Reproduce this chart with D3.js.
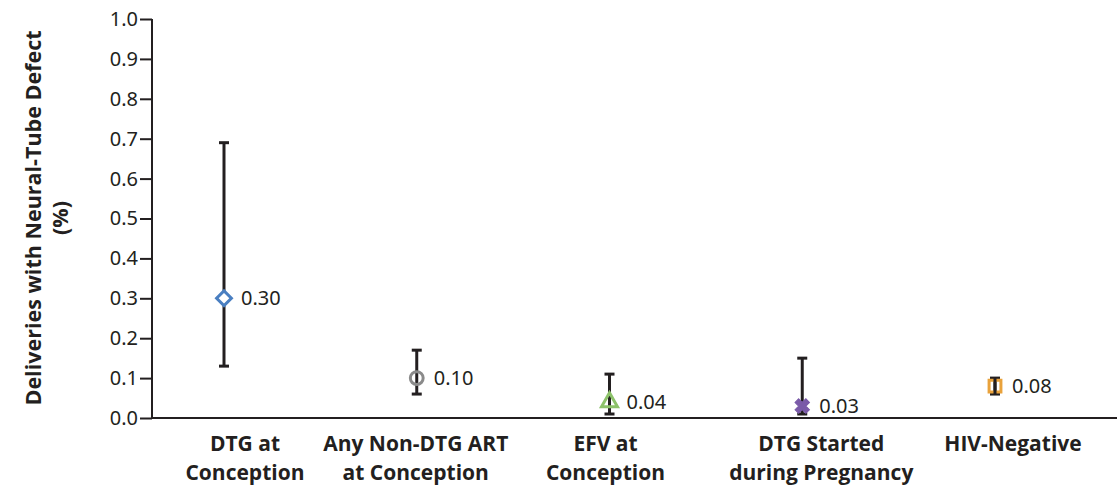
<!DOCTYPE html>
<html lang="en">
<head>
    <meta charset="UTF-8">
    <title>Neural-Tube Defects</title>
    <style>
        body { margin: 0; background: #fff; }
        svg { display: block; }
        .tick text { font: 20px "Noto Sans", sans-serif; fill: #231f20; }
        .cat { font: bold 21px "Open Sans", sans-serif; fill: #231f20; }
        .ytitle { font: bold 21.5px "Open Sans", sans-serif; fill: #231f20; }
        .val { font: 20px "Noto Sans", sans-serif; fill: #231f20; }
    </style>
</head>
<body>
<svg id="chart" width="1117" height="487"></svg>
<script src="https://d3js.org/d3.v7.min.js"></script>
<script>
    const categories = [
        ["DTG at", "Conception"],
        ["Any Non-DTG ART", "at Conception"],
        ["EFV at", "Conception"],
        ["DTG Started", "during Pregnancy"],
        ["HIV-Negative"]
    ];
    const values = [0.30, 0.10, 0.04, 0.03, 0.08];
    const lower = [0.13, 0.06, 0.01, 0.01, 0.06];
    const upper = [0.69, 0.17, 0.11, 0.15, 0.10];
    const valueLabels = ["0.30", "0.10", "0.04", "0.03", "0.08"];
    const yTicks = [0, 0.1, 0.2, 0.3, 0.4, 0.5, 0.6, 0.7, 0.8, 0.9, 1.0];

    // labels in the original are not centred exactly under the markers
    const labelShift = [21, -1, -4, 19, 18];

    const markers = [
        { shape: d3.symbolSquare, color: "#4a7fc1", fill: "#fff", size: 110, rotate: 45 },
        { shape: d3.symbolCircle, color: "#8a8a8a", fill: "none", size: 130 },
        { shape: d3.symbolTriangle, color: "#8dc26a", fill: "none", size: 110 },
        { shape: d3.symbolCross, color: "#7a5aa8", fill: "#7a5aa8", size: 130, rotate: 45 },
        { shape: d3.symbolSquare, color: "#e9a23b", fill: "none", size: 140 }
    ];

    const svg = d3.select("#chart");
    const y = d3.scaleLinear().domain([0, 1]).range([418, 19]);
    const x = d3.scalePoint().domain(d3.range(categories.length)).range([224, 995]);

    // y axis
    const yAxis = d3.axisLeft(y).tickValues(yTicks).tickFormat(d3.format(".1f")).tickSize(12).tickPadding(2);
    const gy = svg.append("g").attr("transform", "translate(152,0)").call(yAxis);
    gy.selectAll("line, path").attr("stroke", "#231f20").attr("stroke-width", 2);
    gy.select(".domain").attr("d", "M0,19V418");

    // x baseline
    svg.append("line")
        .attr("x1", 151).attr("x2", 1117)
        .attr("y1", y(0)).attr("y2", y(0))
        .attr("stroke", "#231f20").attr("stroke-width", 2);

    // y title
    const yt = svg.append("text").attr("class", "ytitle")
        .attr("transform", "translate(41,218) rotate(-90)")
        .attr("text-anchor", "middle");
    yt.append("tspan").attr("x", 0).attr("dy", 0).text("Deliveries with Neural-Tube Defect");
    yt.append("tspan").attr("x", 0).attr("dy", 27).text("(%)");

    // category labels
    categories.forEach((lines, i) => {
        const t = svg.append("text").attr("class", "cat").attr("text-anchor", "middle");
        lines.forEach((l, j) => {
            t.append("tspan").attr("x", x(i) + labelShift[i]).attr("y", 451 + j * 29).text(l);
        });
    });

    // error bars
    const bars = svg.append("g").selectAll("g").data(values).enter().append("g")
        .attr("stroke", "#231f20").attr("stroke-width", 3);
    bars.append("line")
        .attr("x1", (d, i) => x(i)).attr("x2", (d, i) => x(i))
        .attr("y1", (d, i) => y(lower[i])).attr("y2", (d, i) => y(upper[i]));
    bars.append("line")
        .attr("x1", (d, i) => x(i) - 5).attr("x2", (d, i) => x(i) + 5)
        .attr("y1", (d, i) => y(upper[i])).attr("y2", (d, i) => y(upper[i]));
    bars.append("line")
        .attr("x1", (d, i) => x(i) - 5).attr("x2", (d, i) => x(i) + 5)
        .attr("y1", (d, i) => y(lower[i])).attr("y2", (d, i) => y(lower[i]));

    // markers
    svg.append("g").selectAll("path").data(values).enter().append("path")
        .attr("d", (d, i) => d3.symbol().type(markers[i].shape).size(markers[i].size)())
        .attr("transform", (d, i) => `translate(${x(i)},${y(d)}) rotate(${markers[i].rotate || 0})`)
        .attr("fill", (d, i) => markers[i].fill)
        .attr("stroke", (d, i) => markers[i].color)
        .attr("stroke-width", (d, i) => i === 3 ? 1 : 3);

    // redraw HIV-negative bar over its square
    svg.append("line")
        .attr("x1", x(4)).attr("x2", x(4))
        .attr("y1", y(lower[4])).attr("y2", y(upper[4]))
        .attr("stroke", "#231f20").attr("stroke-width", 3);

    // value labels
    svg.append("g").selectAll("text").data(values).enter().append("text")
        .attr("class", "val")
        .attr("x", (d, i) => x(i) + 17)
        .attr("y", d => y(d) + 7)
        .text((d, i) => valueLabels[i]);
</script>
</body>
</html>
